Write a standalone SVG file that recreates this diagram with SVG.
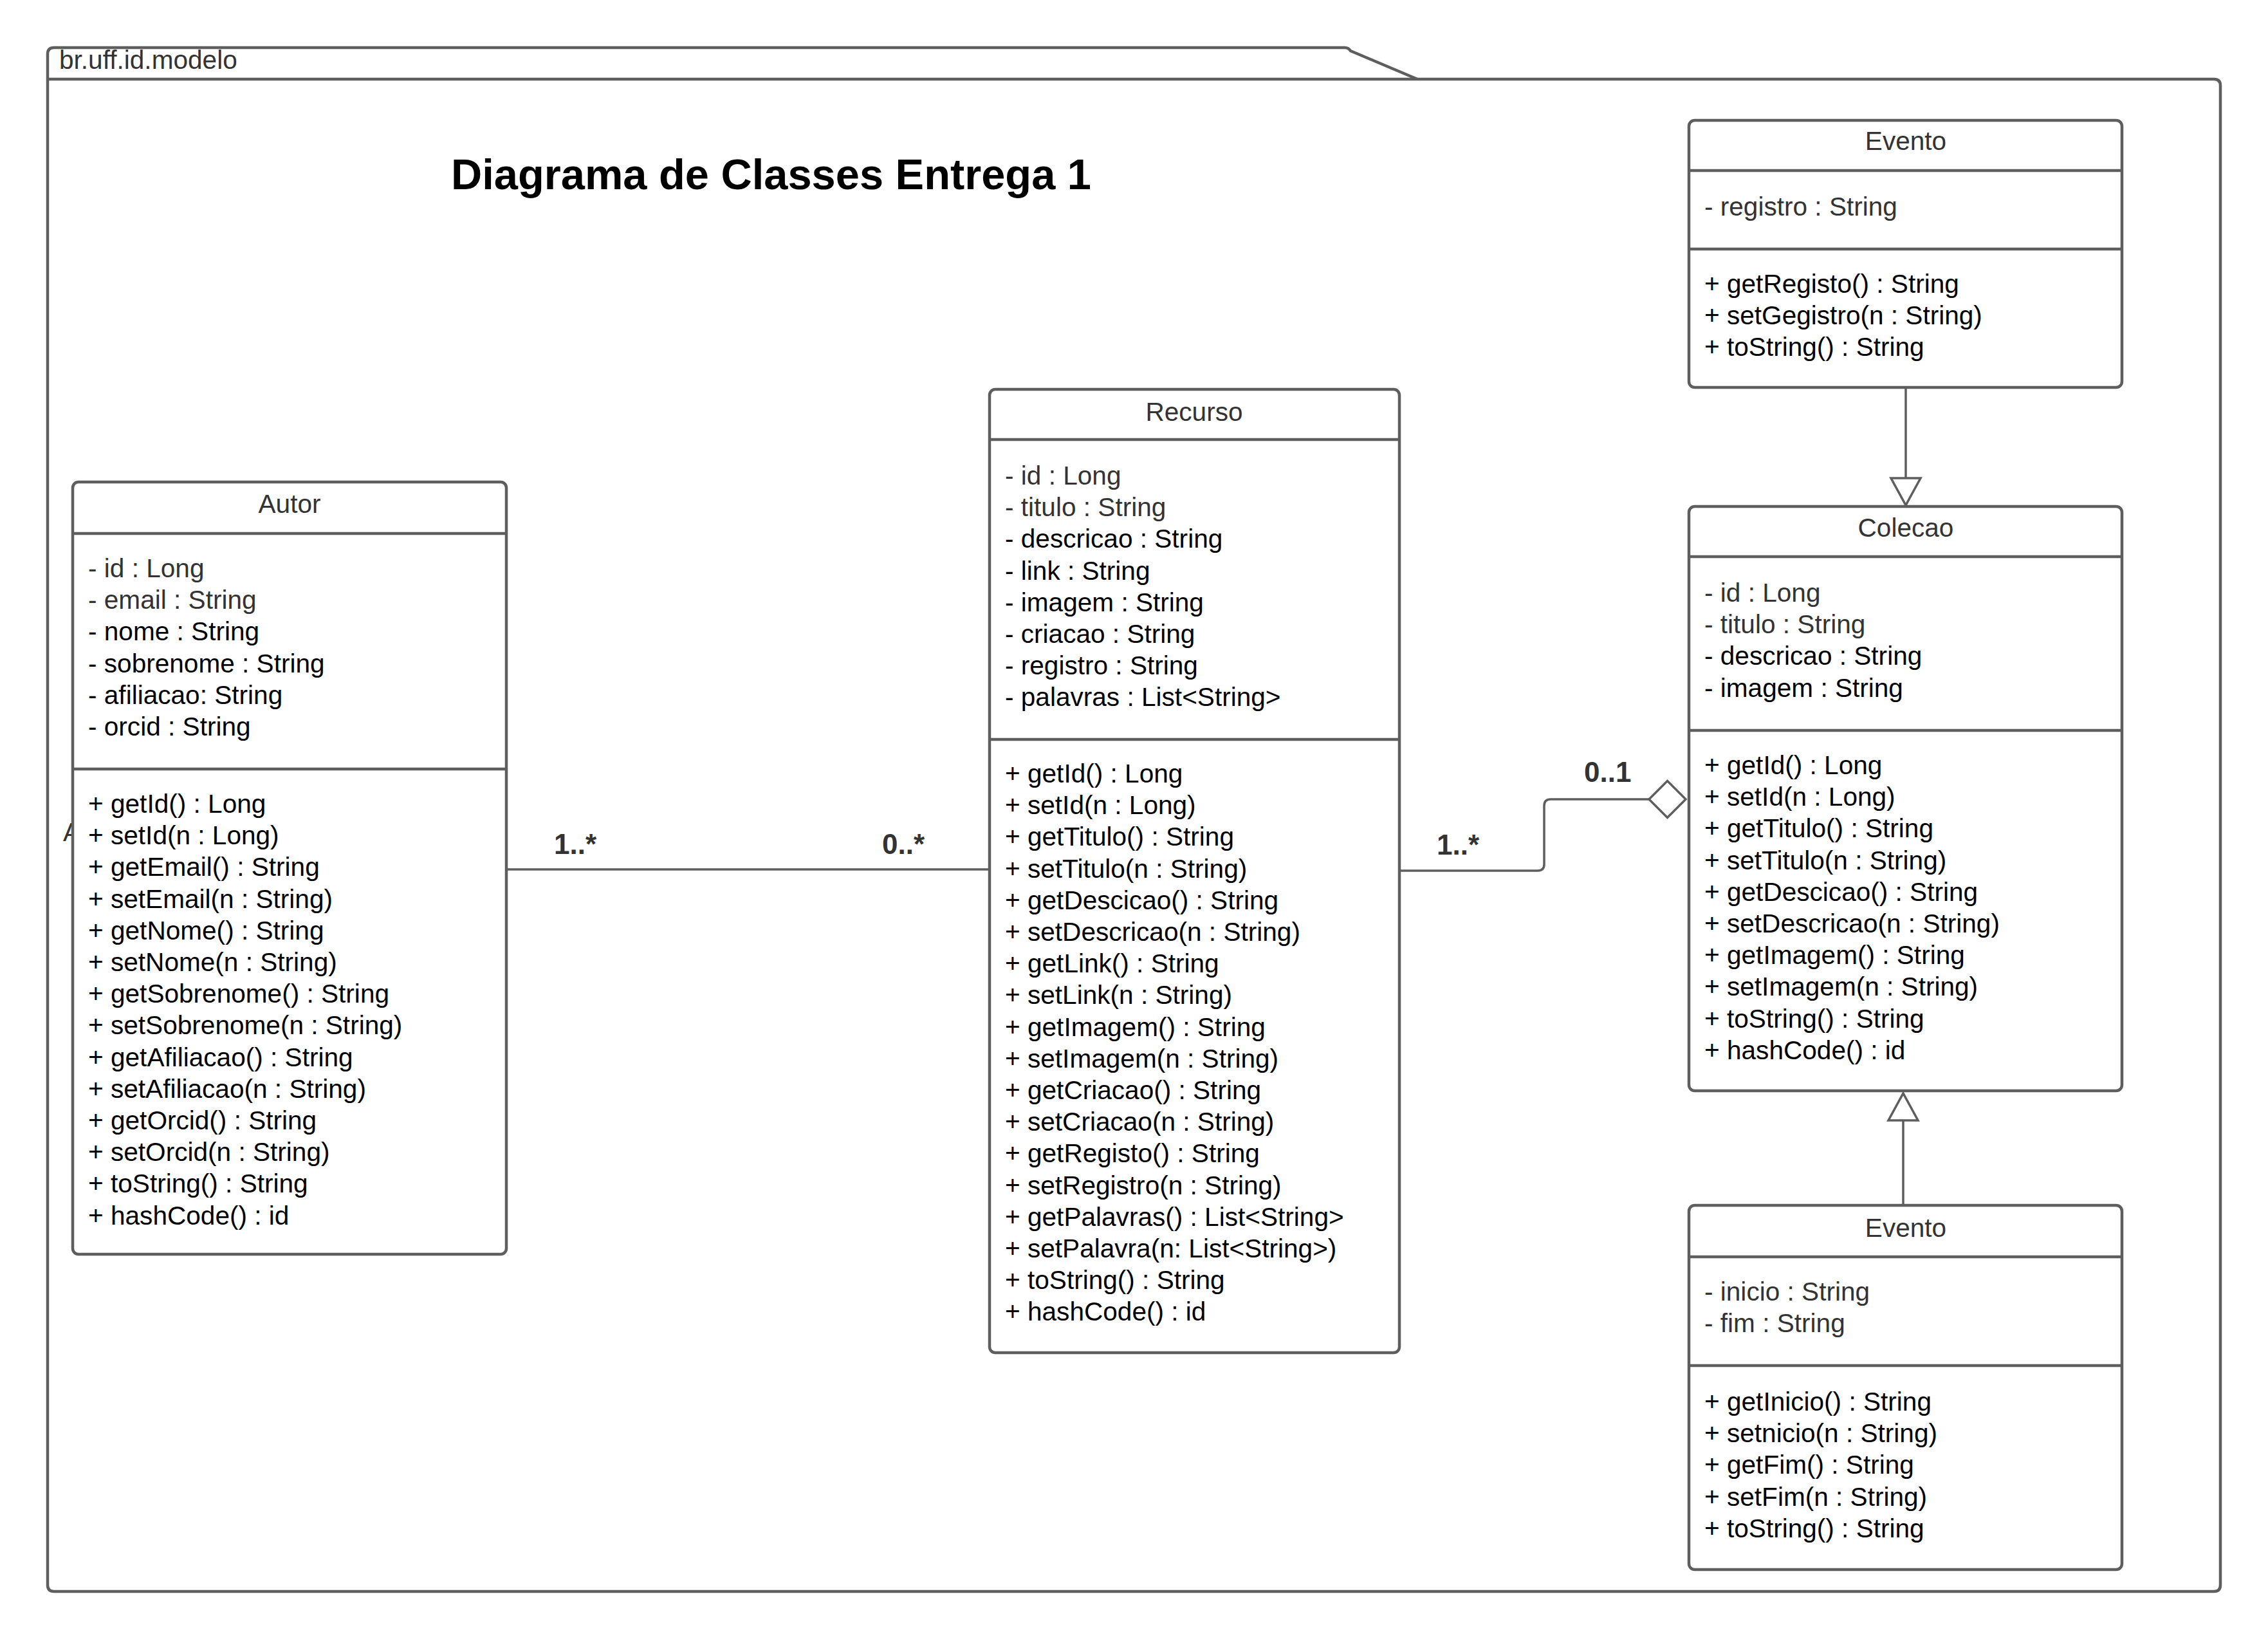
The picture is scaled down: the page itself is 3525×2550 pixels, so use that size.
<svg xmlns="http://www.w3.org/2000/svg" width="3525" height="2550" viewBox="0 0 3525 2550">
<style>
.pkg{fill:none;stroke:#5e5e5e;stroke-width:4.5;stroke-linejoin:round}
.box{fill:#fff;stroke:#5e5e5e;stroke-width:4.5}
.div{stroke:#5e5e5e;stroke-width:4.5}
.conn{fill:none;stroke:#5e5e5e;stroke-width:3.5}
.head{fill:#fff;stroke:#5e5e5e;stroke-width:3.5}
text{font-family:"Liberation Sans",Arial,sans-serif;font-size:40.6px;fill:#000}
.g{fill:#333}
.name{fill:#333;text-anchor:middle}
.lbl{font-weight:bold;font-size:44px;fill:#333}
.title{font-weight:bold;font-size:66.8px;fill:#000}
</style>
<rect width="3525" height="2550" fill="#fff"/>
<g id="package">
<path class="pkg" d="M74 123 H3441 Q3451 123 3451 133 V2463 Q3451 2473 3441 2473 H84 Q74 2473 74 2463 Z"/>
<path class="pkg" d="M74 123 V84 Q74 74 84 74 H2090 Q2096 74 2099 79 L2203 123"/>
<text x="92" y="107" class="g">br.uff.id.modelo</text>
</g>
<text x="701" y="294" class="title">Diagrama de Classes Entrega 1</text>
<text x="98" y="1307" class="g">A</text>
<g id="connectors">
<path class="conn" d="M787 1351 H1538"/>
<path class="conn" d="M2175 1353 H2390 Q2400 1353 2400 1343 V1252 Q2400 1242 2410 1242 H2563"/>
<polygon class="head" points="2563,1242 2591.5,1213.5 2620,1242 2591.5,1270.5"/>
<path class="conn" d="M2962 602 V743"/>
<polygon class="head" points="2939,743 2985,743 2962,785"/>
<path class="conn" d="M2958 1873 V1741"/>
<polygon class="head" points="2935,1741 2981,1741 2958,1699"/>
<text x="861" y="1327" class="lbl">1..*</text>
<text x="1371" y="1327" class="lbl">0..*</text>
<text x="2233" y="1328" class="lbl">1..*</text>
<text x="2462" y="1215" class="lbl">0..1</text>
</g>
<g id="Autor">
<rect class="box" x="113" y="749" width="674" height="1200" rx="9"/>
<line class="div" x1="113" y1="829" x2="787" y2="829"/>
<line class="div" x1="113" y1="1195" x2="787" y2="1195"/>
<text x="450" y="797" class="name">Autor</text>
<text x="137" y="897"><tspan class="g">- id : Long</tspan><tspan x="137" dy="49.2" class="g">- email : String</tspan><tspan x="137" dy="49.2">- nome : String</tspan><tspan x="137" dy="49.2">- sobrenome : String</tspan><tspan x="137" dy="49.2">- afiliacao: String</tspan><tspan x="137" dy="49.2">- orcid : String</tspan></text>
<text x="137" y="1263"><tspan>+ getId() : Long</tspan><tspan x="137" dy="49.2">+ setId(n : Long)</tspan><tspan x="137" dy="49.2">+ getEmail() : String</tspan><tspan x="137" dy="49.2">+ setEmail(n : String)</tspan><tspan x="137" dy="49.2">+ getNome() : String</tspan><tspan x="137" dy="49.2">+ setNome(n : String)</tspan><tspan x="137" dy="49.2">+ getSobrenome() : String</tspan><tspan x="137" dy="49.2">+ setSobrenome(n : String)</tspan><tspan x="137" dy="49.2">+ getAfiliacao() : String</tspan><tspan x="137" dy="49.2">+ setAfiliacao(n : String)</tspan><tspan x="137" dy="49.2">+ getOrcid() : String</tspan><tspan x="137" dy="49.2">+ setOrcid(n : String)</tspan><tspan x="137" dy="49.2">+ toString() : String</tspan><tspan x="137" dy="49.2">+ hashCode() : id</tspan></text>
</g>
<g id="Recurso">
<rect class="box" x="1538" y="605" width="637" height="1497" rx="9"/>
<line class="div" x1="1538" y1="683" x2="2175" y2="683"/>
<line class="div" x1="1538" y1="1149" x2="2175" y2="1149"/>
<text x="1856" y="654" class="name">Recurso</text>
<text x="1562" y="753"><tspan class="g">- id : Long</tspan><tspan x="1562" dy="49.2" class="g">- titulo : String</tspan><tspan x="1562" dy="49.2">- descricao : String</tspan><tspan x="1562" dy="49.2">- link : String</tspan><tspan x="1562" dy="49.2">- imagem : String</tspan><tspan x="1562" dy="49.2">- criacao : String</tspan><tspan x="1562" dy="49.2">- registro : String</tspan><tspan x="1562" dy="49.2">- palavras : List&lt;String&gt;</tspan></text>
<text x="1562" y="1216"><tspan>+ getId() : Long</tspan><tspan x="1562" dy="49.2">+ setId(n : Long)</tspan><tspan x="1562" dy="49.2">+ getTitulo() : String</tspan><tspan x="1562" dy="49.2">+ setTitulo(n : String)</tspan><tspan x="1562" dy="49.2">+ getDescicao() : String</tspan><tspan x="1562" dy="49.2">+ setDescricao(n : String)</tspan><tspan x="1562" dy="49.2">+ getLink() : String</tspan><tspan x="1562" dy="49.2">+ setLink(n : String)</tspan><tspan x="1562" dy="49.2">+ getImagem() : String</tspan><tspan x="1562" dy="49.2">+ setImagem(n : String)</tspan><tspan x="1562" dy="49.2">+ getCriacao() : String</tspan><tspan x="1562" dy="49.2">+ setCriacao(n : String)</tspan><tspan x="1562" dy="49.2">+ getRegisto() : String</tspan><tspan x="1562" dy="49.2">+ setRegistro(n : String)</tspan><tspan x="1562" dy="49.2">+ getPalavras() : List&lt;String&gt;</tspan><tspan x="1562" dy="49.2">+ setPalavra(n: List&lt;String&gt;)</tspan><tspan x="1562" dy="49.2">+ toString() : String</tspan><tspan x="1562" dy="49.2">+ hashCode() : id</tspan></text>
</g>
<g id="EventoTop">
<rect class="box" x="2625" y="187" width="673" height="415" rx="9"/>
<line class="div" x1="2625" y1="265" x2="3298" y2="265"/>
<line class="div" x1="2625" y1="387" x2="3298" y2="387"/>
<text x="2962" y="233" class="name">Evento</text>
<text x="2649" y="335" class="g">- registro : String</text>
<text x="2649" y="455"><tspan>+ getRegisto() : String</tspan><tspan x="2649" dy="49.2">+ setGegistro(n : String)</tspan><tspan x="2649" dy="49.2">+ toString() : String</tspan></text>
</g>
<g id="Colecao">
<rect class="box" x="2625" y="787" width="673" height="908" rx="9"/>
<line class="div" x1="2625" y1="865" x2="3298" y2="865"/>
<line class="div" x1="2625" y1="1135" x2="3298" y2="1135"/>
<text x="2962" y="834" class="name">Colecao</text>
<text x="2649" y="935"><tspan class="g">- id : Long</tspan><tspan x="2649" dy="49.2" class="g">- titulo : String</tspan><tspan x="2649" dy="49.2">- descricao : String</tspan><tspan x="2649" dy="49.2">- imagem : String</tspan></text>
<text x="2649" y="1203"><tspan>+ getId() : Long</tspan><tspan x="2649" dy="49.2">+ setId(n : Long)</tspan><tspan x="2649" dy="49.2">+ getTitulo() : String</tspan><tspan x="2649" dy="49.2">+ setTitulo(n : String)</tspan><tspan x="2649" dy="49.2">+ getDescicao() : String</tspan><tspan x="2649" dy="49.2">+ setDescricao(n : String)</tspan><tspan x="2649" dy="49.2">+ getImagem() : String</tspan><tspan x="2649" dy="49.2">+ setImagem(n : String)</tspan><tspan x="2649" dy="49.2">+ toString() : String</tspan><tspan x="2649" dy="49.2">+ hashCode() : id</tspan></text>
</g>
<g id="EventoBottom">
<rect class="box" x="2625" y="1873" width="673" height="566" rx="9"/>
<line class="div" x1="2625" y1="1953" x2="3298" y2="1953"/>
<line class="div" x1="2625" y1="2122" x2="3298" y2="2122"/>
<text x="2962" y="1922" class="name">Evento</text>
<text x="2649" y="2021"><tspan class="g">- inicio : String</tspan><tspan x="2649" dy="49.2" class="g">- fim : String</tspan></text>
<text x="2649" y="2192"><tspan>+ getInicio() : String</tspan><tspan x="2649" dy="49.2">+ setnicio(n : String)</tspan><tspan x="2649" dy="49.2">+ getFim() : String</tspan><tspan x="2649" dy="49.2">+ setFim(n : String)</tspan><tspan x="2649" dy="49.2">+ toString() : String</tspan></text>
</g>
</svg>
